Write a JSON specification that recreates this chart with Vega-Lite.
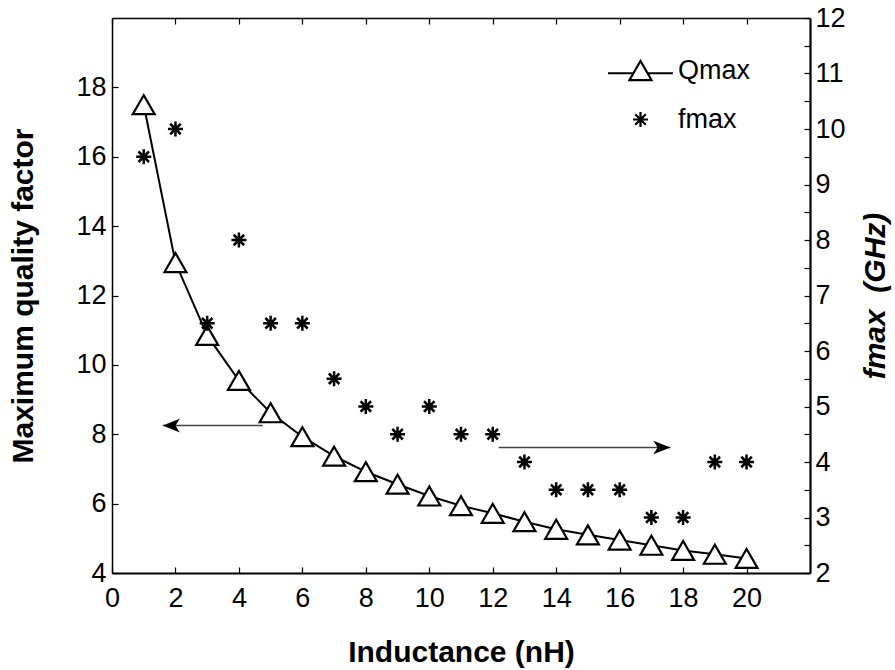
{
  "$schema": "https://vega.github.io/schema/vega-lite/v6.json",
  "width": 698,
  "height": 555,
  "autosize": {"type": "none"},
  "padding": {"left": 112, "top": 18, "right": 85, "bottom": 97},
  "background": "white",
  "config": {
    "view": {"stroke": null},
    "font": "Liberation Sans",
    "axis": {
      "grid": false,
      "domainColor": "black",
      "tickColor": "black",
      "labelColor": "black",
      "titleColor": "black",
      "labelFont": "Liberation Sans",
      "titleFont": "Liberation Sans",
      "labelFontSize": 27,
      "titleFontSize": 30,
      "titleFontWeight": "bold",
      "labelFlush": false,
      "labelOverlap": false,
      "tickSize": -6,
      "tickWidth": 1.2,
      "domainWidth": 1.5
    }
  },
  "datasets": {
    "main": [
      {"L": 1, "Q": 17.5, "f": 9.5},
      {"L": 2, "Q": 12.95, "f": 10},
      {"L": 3, "Q": 10.85, "f": 6.5},
      {"L": 4, "Q": 9.55, "f": 8},
      {"L": 5, "Q": 8.62, "f": 6.5},
      {"L": 6, "Q": 7.93, "f": 6.5},
      {"L": 7, "Q": 7.37, "f": 5.5},
      {"L": 8, "Q": 6.92, "f": 5},
      {"L": 9, "Q": 6.56, "f": 4.5},
      {"L": 10, "Q": 6.22, "f": 5},
      {"L": 11, "Q": 5.94, "f": 4.5},
      {"L": 12, "Q": 5.72, "f": 4.5},
      {"L": 13, "Q": 5.48, "f": 4},
      {"L": 14, "Q": 5.26, "f": 3.5},
      {"L": 15, "Q": 5.1, "f": 3.5},
      {"L": 16, "Q": 4.95, "f": 3.5},
      {"L": 17, "Q": 4.8, "f": 3},
      {"L": 18, "Q": 4.65, "f": 3},
      {"L": 19, "Q": 4.54, "f": 4},
      {"L": 20, "Q": 4.42, "f": 4}
    ],
    "arrowL": [{"L": 1.6, "L2": 4.75, "Q": 8.25}],
    "arrowR": [{"L": 17.6, "L2": 12.19, "f": 4.26}],
    "none": []
  },
  "layer": [
    {
      "encoding": {
        "x": {
          "field": "L",
          "type": "quantitative",
          "scale": {"domain": [0, 22], "nice": false, "zero": false},
          "axis": {
            "orient": "bottom",
            "values": [0, 2, 4, 6, 8, 10, 12, 14, 16, 18, 20],
            "title": "Inductance (nH)",
            "labelPadding": 18,
            "titlePadding": 26,
            "domainWidth": 2.2
          }
        },
        "y": {
          "field": "Q",
          "type": "quantitative",
          "scale": {"domain": [4, 20], "nice": false, "zero": false},
          "axis": {
            "orient": "left",
            "values": [4, 6, 8, 10, 12, 14, 16, 18],
            "title": "Maximum quality factor",
            "labelPadding": 12,
            "titlePadding": 37
          }
        }
      },
      "layer": [
        {
          "data": {"name": "main"},
          "mark": {"type": "line", "color": "black", "strokeWidth": 2}
        },
        {
          "data": {"name": "arrowL"},
          "mark": {"type": "rule", "color": "#444444", "strokeWidth": 1.5},
          "encoding": {"x2": {"field": "L2"}}
        },
        {
          "data": {"name": "arrowL"},
          "mark": {"type": "point", "shape": "M0,0L2,-0.8L1.5,0L2,0.8Z", "size": 289, "filled": true, "color": "black", "opacity": 1}
        },
        {
          "data": {"name": "main"},
          "mark": {"type": "point", "shape": "triangle-up", "filled": true, "fill": "white", "stroke": "black", "strokeWidth": 2.2, "size": 480, "opacity": 1}
        },
        {
          "data": {"name": "none"},
          "mark": {"type": "point", "filled": false, "color": "black", "strokeWidth": 2, "size": 484, "opacity": 1},
          "encoding": {
            "shape": {
              "datum": "Qmax",
              "scale": {
                "domain": ["Qmax", "fmax"],
                "range": [
                  "M-2.95,0.25H-0.64M0.64,0.25H2.95M-1,0.866L0,-0.866L1,0.866Z",
                  "M0,-0.68V0.68M-0.68,0H0.68M-0.48,-0.48L0.48,0.48M-0.48,0.48L0.48,-0.48"
                ]
              },
              "legend": {
                "title": null,
                "orient": "none",
                "legendX": 515,
                "legendY": 39,
                "padding": 0,
                "symbolSize": 484,
                "symbolStrokeWidth": 2.2,
                "symbolStrokeColor": "black",
                "symbolOpacity": 1,
                "labelFont": "Liberation Sans",
                "labelFontSize": 27,
                "labelColor": "black",
                "labelOffset": 24,
                "rowPadding": 20
              }
            }
          }
        }
      ]
    },
    {
      "encoding": {
        "x": {
          "field": "L",
          "type": "quantitative",
          "scale": {"domain": [0, 22], "nice": false, "zero": false},
          "axis": {
            "orient": "top",
            "values": [0, 2, 4, 6, 8, 10, 12, 14, 16, 18, 20],
            "labels": false,
            "title": null
          }
        },
        "y": {
          "field": "f",
          "type": "quantitative",
          "scale": {"domain": [2, 12], "nice": false, "zero": false},
          "axis": {
            "orient": "right",
            "values": [2, 2.5, 3, 3.5, 4, 4.5, 5, 5.5, 6, 6.5, 7, 7.5, 8, 8.5, 9, 9.5, 10, 10.5, 11, 11.5, 12],
            "labelExpr": "datum.value % 1 === 0 ? format(datum.value, 'd') : ''",
            "title": "fmax\u00a0\u00a0(GHz)",
            "titleFontStyle": "italic",
            "titleAngle": 270,
            "titleBaseline": "top",
            "labelPadding": 11,
            "titlePadding": 15,
            "domainWidth": 2.2
          }
        }
      },
      "layer": [
        {
          "data": {"name": "main"},
          "mark": {"type": "point", "shape": "M0,-1V1M-1,0H1M-0.7,-0.7L0.7,0.7M-0.7,0.7L0.7,-0.7", "filled": false, "stroke": "black", "strokeWidth": 2.5, "size": 225, "opacity": 1}
        },
        {
          "data": {"name": "arrowR"},
          "mark": {"type": "rule", "color": "#444444", "strokeWidth": 1.5},
          "encoding": {"x2": {"field": "L2"}}
        },
        {
          "data": {"name": "arrowR"},
          "mark": {"type": "point", "shape": "M0,0L-2,-0.8L-1.5,0L-2,0.8Z", "size": 289, "filled": true, "color": "black", "opacity": 1}
        }
      ]
    }
  ],
  "resolve": {"scale": {"y": "independent"}, "axis": {"x": "independent"}}
}
